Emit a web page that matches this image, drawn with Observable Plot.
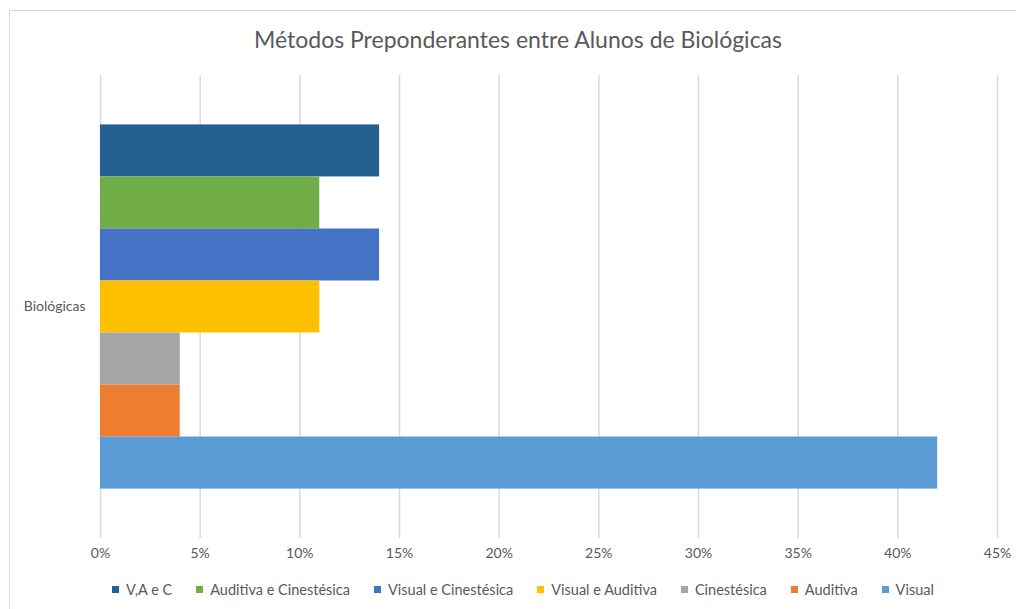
<!DOCTYPE html>
<html>
<head>
<meta charset="utf-8">
<script src="https://cdn.jsdelivr.net/npm/d3@7"></script>
<script src="https://cdn.jsdelivr.net/npm/@observablehq/plot@0.6"></script>
<style>
  html, body { margin: 0; padding: 0; background: #fff; }
  body { width: 1016px; height: 609px; position: relative; overflow: hidden; font-family: Lato, "Open Sans", sans-serif; }
  #frame { position: absolute; left: 9px; top: 10px; width: 1020px; height: 620px; border: 1px solid #d9d9d9; box-sizing: border-box; }
  #title { position: absolute; left: 0; width: 1036px; top: 25px; text-align: center; font-size: 23px; color: #595959; }
  #chart { position: absolute; left: 0; top: 60px; }
  #legend { position: absolute; left: 0; width: 1046px; top: 581px; display: flex; justify-content: center; font-size: 14.5px; color: #595959; }
  #legend .item { display: flex; align-items: center; margin: 0 12px; }
  #legend .sw { width: 7px; height: 7px; margin-right: 7px; }
</style>
</head>
<body>
<div id="frame"></div>
<div id="title">Métodos Preponderantes entre Alunos de Biológicas</div>
<div id="chart"></div>
<div id="legend"></div>
<script>
const categories = ["Biológicas"];
const series = ["V,A e C", "Auditiva e Cinestésica", "Visual e Cinestésica", "Visual e Auditiva", "Cinestésica", "Auditiva", "Visual"];
const values = [0.14, 0.11, 0.14, 0.11, 0.04, 0.04, 0.42];
const colors = ["#255E91", "#70AD47", "#4472C4", "#FFC000", "#A5A5A5", "#ED7D31", "#5B9BD5"];
const xTicks = [0, 0.05, 0.10, 0.15, 0.20, 0.25, 0.30, 0.35, 0.40, 0.45];

const data = series.map((s, i) => ({category: categories[0], series: s, value: values[i]}));
const fmt = d => Math.round(d * 100) + "%";

const chart = Plot.plot({
  width: 1016,
  height: 510,
  marginLeft: 100,
  marginRight: 19,
  marginTop: 15,
  marginBottom: 32,
  style: {fontFamily: "Lato, 'Open Sans', sans-serif", fontSize: "14px", color: "#595959", background: "transparent"},
  x: {domain: [0, 0.45], ticks: xTicks, tickFormat: fmt, tickSize: 0, tickPadding: 10, label: null},
  y: {domain: series, paddingInner: 0, paddingOuter: 0.95, round: false, axis: null},
  color: {domain: series, range: colors},
  marks: [
    Plot.gridX(xTicks, {stroke: "#d9d9d9", strokeOpacity: 1, strokeWidth: 1.5}),
    Plot.barX(data, {x: "value", y: "series", fill: "series"}),
    Plot.text(categories, {text: d => d, frameAnchor: "left", textAnchor: "end", dx: -15, fill: "#595959", fontSize: 14}),
    Plot.axisX({ticks: xTicks, tickFormat: fmt, tickSize: 0, tickPadding: 10, label: null})
  ]
});
document.getElementById("chart").appendChild(chart);

const legend = document.getElementById("legend");
series.forEach((s, i) => {
  const item = document.createElement("div");
  item.className = "item";
  const sw = document.createElement("div");
  sw.className = "sw";
  sw.style.background = colors[i];
  const label = document.createElement("span");
  label.textContent = s;
  item.appendChild(sw);
  item.appendChild(label);
  legend.appendChild(item);
});
</script>
</body>
</html>
